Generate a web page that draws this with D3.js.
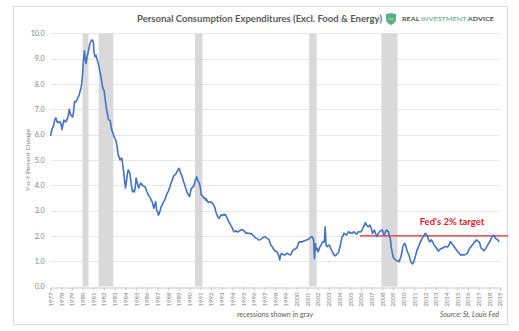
<!DOCTYPE html>
<html>
<head>
<meta charset="utf-8">
<script src="https://cdn.jsdelivr.net/npm/d3@7"></script>
<style>
  html, body { margin: 0; padding: 0; background: #fff; }
  svg { display: block; }
</style>
</head>
<body>
<div id="chart"></div>
<script>
// core PCE, year-over-year % change, one row of 12 monthly values per year
const firstYear = 1977;
const coreByYear = [
  [5.95, 6.10, 6.25, 6.30, 6.45, 6.60, 6.66, 6.55, 6.47, 6.50, 6.48, 6.50], // 1977
  [6.38, 6.20, 6.40, 6.57, 6.55, 6.50, 6.55, 6.64, 6.75, 7.00, 6.85, 6.77],
  [6.72, 6.70, 6.95, 7.30, 7.28, 7.33, 7.40, 7.49, 7.55, 7.69, 7.80, 8.02],
  [8.42, 8.94, 9.31, 8.95, 8.81, 9.07, 9.20, 9.40, 9.55, 9.66, 9.73, 9.73], // 1980
  [9.66, 9.20, 9.07, 9.14, 9.00, 8.87, 8.75, 8.55, 8.40, 8.20, 7.95, 7.80],
  [7.75, 7.50, 7.20, 6.97, 6.80, 6.60, 6.57, 6.55, 6.30, 6.15, 6.05, 5.95],
  [5.86, 5.80, 5.66, 5.45, 5.19, 5.10, 5.00, 5.05, 5.07, 4.80, 4.53, 4.20],
  [3.89, 4.10, 4.40, 4.60, 4.55, 4.48, 4.20, 3.90, 3.74, 3.80, 3.74, 3.90],
  [4.28, 4.14, 4.00, 3.89, 4.00, 4.08, 4.05, 4.00, 3.98, 3.95, 3.94, 3.85], // 1985
  [3.75, 3.68, 3.60, 3.55, 3.50, 3.40, 3.35, 3.20, 3.09, 3.25, 3.35, 3.02],
  [2.95, 2.82, 2.90, 3.00, 3.15, 3.20, 3.30, 3.35, 3.41, 3.50, 3.60, 3.70],
  [3.74, 3.85, 3.95, 4.07, 4.15, 4.25, 4.36, 4.40, 4.42, 4.47, 4.55, 4.60],
  [4.67, 4.60, 4.45, 4.40, 4.30, 4.15, 4.07, 3.95, 3.85, 3.74, 3.65, 3.60],
  [3.55, 3.75, 3.88, 3.90, 3.95, 4.00, 4.15, 4.25, 4.33, 4.20, 4.14, 4.07], // 1990
  [3.90, 3.61, 3.60, 3.55, 3.48, 3.50, 3.41, 3.45, 3.35, 3.32, 3.35, 3.35],
  [3.35, 3.30, 3.28, 3.20, 3.15, 3.00, 2.89, 2.80, 2.72, 2.69, 2.75, 2.82],
  [2.82, 2.80, 2.85, 2.82, 2.85, 2.78, 2.70, 2.62, 2.55, 2.50, 2.42, 2.36],
  [2.30, 2.20, 2.16, 2.18, 2.20, 2.16, 2.15, 2.18, 2.20, 2.22, 2.25, 2.23],
  [2.23, 2.20, 2.15, 2.10, 2.12, 2.10, 2.10, 2.10, 2.08, 2.10, 2.05, 2.03], // 1995
  [2.00, 1.95, 1.92, 1.90, 1.88, 1.85, 1.84, 1.85, 1.87, 1.90, 1.92, 1.95],
  [1.97, 1.95, 1.92, 1.90, 1.88, 1.85, 1.75, 1.64, 1.60, 1.55, 1.48, 1.44],
  [1.40, 1.38, 1.37, 1.30, 1.20, 1.05, 1.25, 1.31, 1.28, 1.26, 1.24, 1.25],
  [1.28, 1.31, 1.30, 1.28, 1.26, 1.24, 1.30, 1.38, 1.44, 1.45, 1.48, 1.51],
  [1.51, 1.60, 1.70, 1.77, 1.77, 1.75, 1.77, 1.78, 1.80, 1.80, 1.82, 1.84], // 2000
  [1.84, 1.86, 1.90, 1.92, 1.95, 1.97, 1.93, 1.84, 1.11, 1.70, 1.45, 1.51],
  [1.37, 1.45, 1.57, 1.60, 1.70, 1.75, 1.77, 1.75, 2.36, 1.64, 1.57, 1.60],
  [1.64, 1.62, 1.50, 1.45, 1.37, 1.30, 1.25, 1.22, 1.22, 1.28, 1.31, 1.35],
  [1.50, 1.64, 1.80, 1.97, 2.00, 2.10, 2.08, 2.05, 2.03, 2.10, 2.16, 2.15],
  [2.10, 2.12, 2.10, 2.12, 2.16, 2.14, 2.10, 2.07, 2.10, 2.16, 2.16, 2.15], // 2005
  [2.16, 2.20, 2.28, 2.36, 2.42, 2.52, 2.45, 2.40, 2.36, 2.38, 2.43, 2.35],
  [2.25, 2.10, 2.15, 2.23, 2.15, 2.05, 1.97, 2.05, 2.12, 2.16, 2.20, 2.23],
  [2.23, 2.12, 2.03, 2.10, 2.20, 2.23, 2.18, 2.16, 1.97, 1.90, 1.55, 1.37],
  [1.20, 1.11, 1.08, 1.05, 1.03, 1.02, 1.00, 0.98, 1.10, 1.18, 1.35, 1.57],
  [1.65, 1.70, 1.65, 1.51, 1.40, 1.30, 1.24, 1.10, 0.98, 0.92, 0.89, 0.95], // 2010
  [1.05, 1.18, 1.30, 1.45, 1.51, 1.60, 1.70, 1.77, 1.85, 1.92, 1.97, 2.03],
  [2.10, 2.08, 2.03, 1.95, 1.85, 1.77, 1.77, 1.84, 1.80, 1.72, 1.64, 1.60],
  [1.55, 1.50, 1.44, 1.40, 1.44, 1.48, 1.51, 1.50, 1.53, 1.55, 1.57, 1.57],
  [1.57, 1.56, 1.60, 1.65, 1.77, 1.75, 1.70, 1.64, 1.60, 1.55, 1.51, 1.45],
  [1.40, 1.37, 1.32, 1.28, 1.24, 1.26, 1.24, 1.25, 1.24, 1.26, 1.28, 1.31], // 2015
  [1.35, 1.45, 1.51, 1.55, 1.60, 1.64, 1.68, 1.75, 1.77, 1.82, 1.84, 1.80],
  [1.77, 1.75, 1.60, 1.51, 1.48, 1.45, 1.41, 1.45, 1.50, 1.57, 1.62, 1.70],
  [1.75, 1.80, 1.90, 1.95, 2.00, 2.03, 1.98, 1.90, 1.88, 1.87, 1.82, 1.77]  // 2018
];

// recession periods [start, end] in decimal years
const recessions = [
  [1980.0, 1980.55],
  [1981.5, 1982.87],
  [1990.5, 1991.2],
  [2001.17, 2001.87],
  [2007.92, 2009.42]
];

const yTicks = [0, 1, 2, 3, 4, 5, 6, 7, 8, 9, 10];
const yearLabels = d3.range(1977, 2020);

const fedTarget = 2.0;
const fedTargetSpan = [2005.9, 2019.75];

const W = 519, H = 331;

const series = [];
coreByYear.forEach((row, i) => {
  row.forEach((v, m) => series.push({ t: firstYear + i + m / 12, v: v }));
});

const svg = d3.select('#chart').append('svg')
  .attr('width', W)
  .attr('height', H);

// card frame
svg.append('rect')
  .attr('x', 13.5).attr('y', 6.5)
  .attr('width', 494).attr('height', 318)
  .attr('fill', '#fff')
  .attr('stroke', '#dcdcdc');

const x = d3.scaleLinear().domain([1977, 2019]).range([50.5, 500]);
const y = d3.scaleLinear().domain([0, 10]).range([286.5, 33.3]);

// gridlines
svg.append('g')
  .selectAll('line')
  .data(yTicks.filter(d => d > 0))
  .join('line')
  .attr('x1', x(1977)).attr('x2', x(2019))
  .attr('y1', d => Math.round(y(d)) + 0.5)
  .attr('y2', d => Math.round(y(d)) + 0.5)
  .attr('stroke', '#e8e8e8');

// recession shading
svg.append('g')
  .selectAll('rect')
  .data(recessions)
  .join('rect')
  .attr('x', d => x(d[0]))
  .attr('width', d => x(d[1]) - x(d[0]))
  .attr('y', y(10))
  .attr('height', y(0) - y(10))
  .attr('fill', '#d9d9d9');

// y axis labels
const yAxis = d3.axisLeft(y)
  .tickValues(yTicks)
  .tickFormat(d3.format('.1f'))
  .tickSize(0)
  .tickPadding(6);

svg.append('g')
  .attr('transform', `translate(${x(1977)},0)`)
  .call(yAxis)
  .call(g => g.select('.domain').remove())
  .call(g => g.selectAll('text')
    .attr('fill', '#808080')
    .attr('font-family', 'Lato, "Open Sans", sans-serif')
    .attr('font-size', 7));

// x axis with rotated year labels
const xAxis = d3.axisBottom(x)
  .tickValues(yearLabels)
  .tickFormat(d3.format('d'))
  .tickSize(3)
  .tickPadding(2);

svg.append('g')
  .attr('transform', `translate(0,${Math.round(y(0)) + 0.5})`)
  .call(xAxis)
  .call(g => g.select('.domain').attr('stroke', '#c8c8c8'))
  .call(g => g.selectAll('.tick line').attr('stroke', '#c8c8c8'))
  .call(g => g.selectAll('text')
    .attr('fill', '#808080')
    .attr('font-family', 'Lato, "Open Sans", sans-serif')
    .attr('font-size', 6)
    .attr('text-anchor', 'end')
    .attr('dy', '0.32em')
    .attr('transform', 'translate(0,5) rotate(-90)')
    .attr('x', 0)
    .attr('y', 0));

// y axis title
svg.append('text')
  .attr('transform', 'translate(30,160) rotate(-90)')
  .attr('text-anchor', 'middle')
  .attr('font-family', 'Lato, "Open Sans", sans-serif')
  .attr('font-size', 6.5)
  .attr('fill', '#808080')
  .text('Y-o-Y Percent Change');

// Fed target line
svg.append('line')
  .attr('x1', x(fedTargetSpan[0])).attr('x2', x(fedTargetSpan[1]))
  .attr('y1', y(fedTarget)).attr('y2', y(fedTarget))
  .attr('stroke', '#f0262a')
  .attr('stroke-width', 1.4);

svg.append('text')
  .attr('x', 452).attr('y', 225)
  .attr('text-anchor', 'middle')
  .attr('font-family', 'Lato, "Open Sans", sans-serif')
  .attr('font-weight', 'bold')
  .attr('font-size', 9.5)
  .attr('fill', '#e8202a')
  .text("Fed's 2% target");

// PCE line
const line = d3.line()
  .x(d => x(d.t))
  .y(d => y(d.v));

svg.append('path')
  .datum(series)
  .attr('d', line)
  .attr('fill', 'none')
  .attr('stroke', '#4472c4')
  .attr('stroke-width', 1.6)
  .attr('stroke-linejoin', 'round');

// title
svg.append('text')
  .attr('x', 137).attr('y', 22)
  .attr('font-family', 'Lato, "Open Sans", sans-serif')
  .attr('font-weight', 'bold')
  .attr('font-size', 10)
  .attr('fill', '#595959')
  .attr('textLength', 245)
  .attr('lengthAdjust', 'spacingAndGlyphs')
  .text('Personal Consumption Expenditures (Excl. Food & Energy)');

// logo: shield + wordmark
const logo = svg.append('g').attr('transform', 'translate(386,13)');
logo.append('path')
  .attr('d', 'M0,1 L5,0 L10,1 L10,6 Q10,10 5,12 Q0,10 0,6 Z')
  .attr('fill', '#5bb08a');
logo.append('path')
  .attr('d', 'M2.5,6 h5')
  .attr('stroke', '#fff')
  .attr('stroke-width', 1)
  .attr('stroke-dasharray', '1 1');

const word = svg.append('text')
  .attr('x', 402).attr('y', 21)
  .attr('font-family', 'Lato, "Open Sans", sans-serif')
  .attr('font-weight', 'bold')
  .attr('font-size', 6)
  .attr('textLength', 92)
  .attr('lengthAdjust', 'spacingAndGlyphs');
word.append('tspan').attr('fill', '#555').text('REAL ');
word.append('tspan').attr('fill', '#6cc09a').text('INVESTMENT ');
word.append('tspan').attr('fill', '#555').text('ADVICE');

// footer notes
svg.append('text')
  .attr('x', 275).attr('y', 317)
  .attr('text-anchor', 'middle')
  .attr('font-family', 'Lato, "Open Sans", sans-serif')
  .attr('font-size', 7)
  .attr('fill', '#595959')
  .text('recessions shown in gray');

svg.append('text')
  .attr('x', 499).attr('y', 317)
  .attr('text-anchor', 'end')
  .attr('font-family', 'Lato, "Open Sans", sans-serif')
  .attr('font-style', 'italic')
  .attr('font-size', 7)
  .attr('fill', '#595959')
  .text('Source: St. Louis Fed');
</script>
</body>
</html>
